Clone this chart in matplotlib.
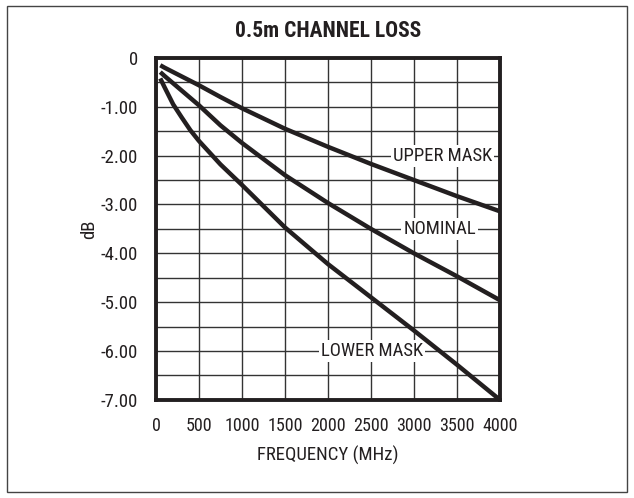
import matplotlib
matplotlib.use('Agg')
import matplotlib.pyplot as plt
from matplotlib import font_manager
from matplotlib.patches import Rectangle
from matplotlib.ticker import MultipleLocator

# values
freq = [50, 100, 200, 300, 400, 500, 750, 1000, 1500, 2000, 2500, 3000, 3500, 4000]
upper_mask = [-0.15, -0.2, -0.29, -0.38, -0.47, -0.56, -0.8, -1.03, -1.45, -1.82,
              -2.17, -2.5, -2.83, -3.14]
nominal = [-0.29, -0.37, -0.52, -0.67, -0.82, -0.97, -1.38, -1.74, -2.4, -2.97,
           -3.5, -4.0, -4.47, -4.96]
lower_mask = [-0.42, -0.6, -0.95, -1.22, -1.48, -1.7, -2.18, -2.6, -3.47, -4.22,
              -4.9, -5.58, -6.28, -7.0]

x_ticks = [0, 500, 1000, 1500, 2000, 2500, 3000, 3500, 4000]
y_ticks = [0, -1, -2, -3, -4, -5, -6, -7]
y_labels = ['0', '-1.00', '-2.00', '-3.00', '-4.00', '-5.00', '-6.00', '-7.00']

curve_labels = ['UPPER MASK', 'NOMINAL', 'LOWER MASK']
label_x = [3330, 3300, 2510]
label_y = [-2.0, -3.5, -6.0]

ink = '#231f20'


def find_narrow(bold):
    # look for a condensed / narrow sans among the installed fonts
    best = None
    for f in font_manager.fontManager.ttflist:
        tag = (f.name + ' ' + str(f.stretch) + ' ' + f.fname).lower()
        if not ('narrow' in tag or 'condensed' in tag):
            continue
        if 'semi' in tag or 'extra' in tag or 'ultra' in tag or 'italic' in tag \
                or 'oblique' in tag or 'mono' in tag or 'serif' in tag.replace('sans', ''):
            continue
        w = f.weight if isinstance(f.weight, int) else 400
        if bold != (w >= 600 or 'bold' in tag):
            continue
        rank = 0 if 'liberation' in tag else 1 if 'roboto' in tag else 2
        if best is None or rank < best[0]:
            best = (rank, f.fname)
    return best[1] if best else None


reg_file = find_narrow(False)
bold_file = find_narrow(True)
if reg_file:
    fp = font_manager.FontProperties(fname=reg_file, size=13.5)
    fp_small = font_manager.FontProperties(fname=reg_file, size=13)
else:
    fp = font_manager.FontProperties(family='Liberation Sans', size=12)
    fp_small = font_manager.FontProperties(family='Liberation Sans', size=11)
if bold_file:
    fp_title = font_manager.FontProperties(fname=bold_file, size=15.5)
else:
    fp_title = font_manager.FontProperties(family='Liberation Sans', weight='bold', size=13)

fig = plt.figure(figsize=(6.34, 4.98), dpi=100)
ax = fig.add_axes([0.246, 0.197, 0.5426, 0.6867])

for ys in (upper_mask, nominal, lower_mask):
    ax.plot(freq, ys, color=ink, lw=3.2, solid_capstyle='butt',
            solid_joinstyle='round', zorder=4)

for txt, lx, ly in zip(curve_labels, label_x, label_y):
    ax.text(lx, ly, txt, ha='center', va='center', fontproperties=fp, color=ink,
            bbox=dict(fc='white', ec='none', pad=1.5), zorder=3)

ax.set_xlim(0, 4000)
ax.set_ylim(-7, 0)
ax.set_xticks(x_ticks)
ax.set_yticks(y_ticks)
ax.set_yticklabels(y_labels)
ax.yaxis.set_minor_locator(MultipleLocator(0.5))
ax.grid(True, which='both', color='#333333', lw=1.0, zorder=1)
ax.set_axisbelow(True)
ax.tick_params(which='both', length=0, colors=ink)
ax.tick_params(axis='x', pad=12)
ax.tick_params(axis='y', pad=13)
for lab in ax.get_xticklabels():
    lab.set_fontproperties(fp_small)
for lab in ax.get_yticklabels():
    lab.set_fontproperties(fp)
for s in ax.spines.values():
    s.set_linewidth(2.8)
    s.set_color(ink)
    s.set_zorder(5)

ax.set_xlabel('FREQUENCY (MHz)', fontproperties=fp, color=ink, labelpad=8)
ax.set_ylabel('dB', fontproperties=fp, color=ink, labelpad=2)

fig.text(328 / 634, 1 - 31 / 498, '0.5m CHANNEL LOSS', ha='center', va='center',
         fontproperties=fp_title, color=ink)

fig.patches.append(Rectangle((0.011, 0.012), 0.978, 0.976, transform=fig.transFigure,
                             fill=False, ec='#444444', lw=1.0))

fig.savefig('out.png', dpi=100)
